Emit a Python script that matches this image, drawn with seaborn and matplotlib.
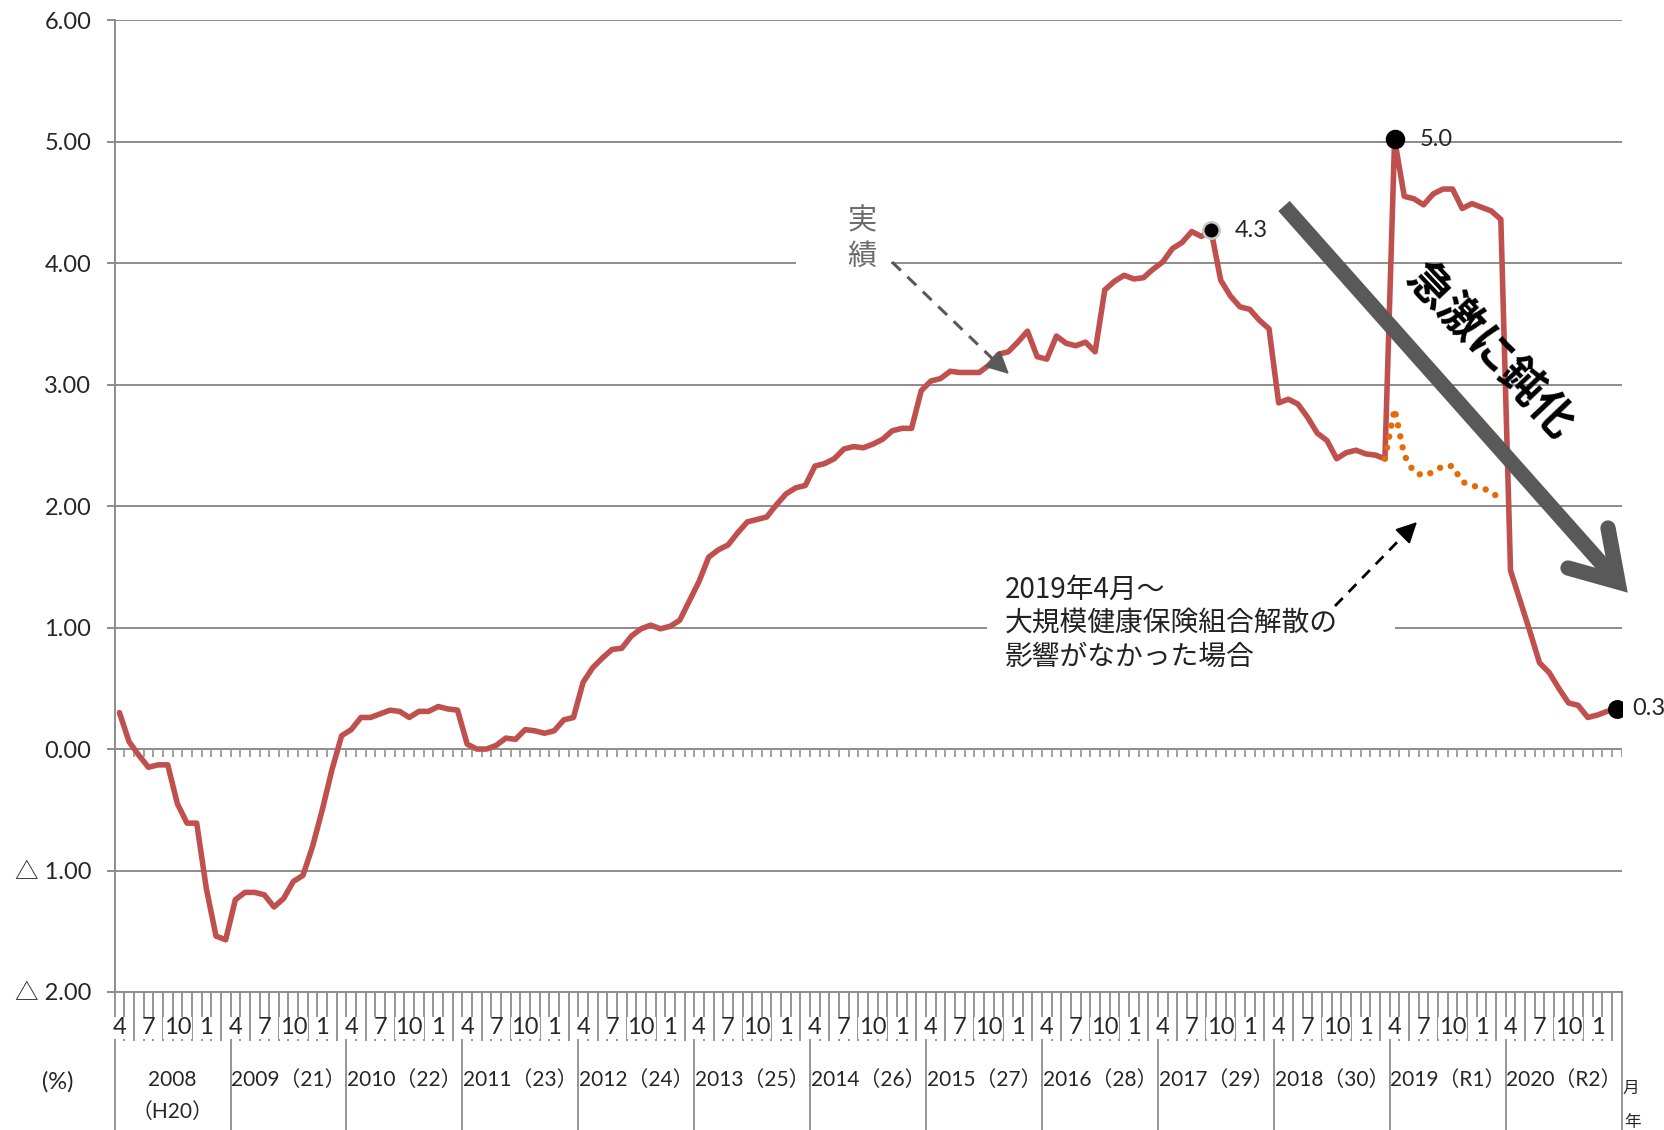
import numpy as np
import pandas as pd
import matplotlib
matplotlib.use("Agg")
import matplotlib.pyplot as plt
import matplotlib.transforms as mtransforms
from matplotlib.patches import Rectangle
import seaborn as sns

# Category axis: fiscal years (April to March) and the month labels shown in each
fiscal_year_labels = [
    ["2008", "（H20）"], ["2009（21）"], ["2010（22）"], ["2011（23）"], ["2012（24）"],
    ["2013（25）"], ["2014（26）"], ["2015（27）"], ["2016（28）"], ["2017（29）"],
    ["2018（30）"], ["2019（R1）"], ["2020（R2）"],
]
labelled_months = ["4", "7", "10", "1"]
months = pd.period_range("2008-04", "2021-03", freq="M")

# Year-on-year growth (%), actual figures by fiscal year
growth_fy2008 = [0.30, 0.06, -0.05, -0.15, -0.13, -0.13, -0.45, -0.61, -0.61, -1.15, -1.54, -1.57]
growth_fy2009 = [-1.24, -1.18, -1.18, -1.20, -1.30, -1.23, -1.09, -1.04, -0.80, -0.50, -0.17, 0.11]
growth_fy2010 = [0.16, 0.26, 0.26, 0.29, 0.32, 0.31, 0.26, 0.31, 0.31, 0.35, 0.33, 0.32]
growth_fy2011 = [0.04, 0.00, 0.00, 0.03, 0.09, 0.08, 0.16, 0.15, 0.13, 0.15, 0.24, 0.26]
growth_fy2012 = [0.55, 0.67, 0.75, 0.82, 0.83, 0.93, 0.99, 1.02, 0.99, 1.01, 1.06, 1.22]
growth_fy2013 = [1.38, 1.58, 1.64, 1.68, 1.78, 1.87, 1.89, 1.91, 2.01, 2.10, 2.15, 2.17]
growth_fy2014 = [2.33, 2.35, 2.39, 2.47, 2.49, 2.48, 2.51, 2.55, 2.62, 2.64, 2.64, 2.95]
growth_fy2015 = [3.03, 3.05, 3.11, 3.10, 3.10, 3.10, 3.16, 3.25, 3.27, 3.35, 3.44, 3.23]
growth_fy2016 = [3.21, 3.40, 3.34, 3.32, 3.35, 3.27, 3.78, 3.85, 3.90, 3.87, 3.88, 3.95]
growth_fy2017 = [4.01, 4.12, 4.17, 4.26, 4.22, 4.27, 3.86, 3.73, 3.64, 3.62, 3.53, 3.46]
growth_fy2018 = [2.85, 2.88, 2.84, 2.73, 2.60, 2.54, 2.39, 2.44, 2.46, 2.43, 2.42, 2.39]
growth_fy2019 = [5.02, 4.55, 4.53, 4.48, 4.57, 4.61, 4.61, 4.45, 4.49, 4.46, 4.43, 4.36]
growth_fy2020 = [1.47, 1.22, 0.97, 0.71, 0.63, 0.50, 0.38, 0.36, 0.26, 0.28, 0.31, 0.33]

# Path without the effect of the large health insurance society dissolved in April 2019
counterfactual_months = pd.period_range("2019-03", "2020-03", freq="M")
growth_counterfactual = [2.39, 2.80, 2.42, 2.28, 2.25, 2.28, 2.33, 2.33, 2.20, 2.17, 2.15, 2.12, 2.05]

# Months whose value is written next to a marker
highlight_months = ["2017-09", "2019-04", "2021-03"]
highlight_offsets_pt = [17, 18, 11.5]

RED = "#C0504D"
ORANGE = "#E36C09"
GRID = "#8C8C8C"
DARK = "#595959"

actual = (growth_fy2008 + growth_fy2009 + growth_fy2010 + growth_fy2011 + growth_fy2012
          + growth_fy2013 + growth_fy2014 + growth_fy2015 + growth_fy2016 + growth_fy2017
          + growth_fy2018 + growth_fy2019 + growth_fy2020)
df = pd.DataFrame({"month": months, "pos": np.arange(len(months)), "growth": actual})
pos_of = {m: i for i, m in enumerate(months)}
cf = pd.DataFrame({"pos": [pos_of[m] for m in counterfactual_months],
                   "growth": growth_counterfactual})
hl = df[df["month"].isin(pd.PeriodIndex(highlight_months, freq="M"))].reset_index(drop=True)

W, H = 1664, 1130
sns.set_style("white")
plt.rcParams["font.family"] = ["Lato", "Noto Sans CJK JP"]
plt.rcParams["axes.unicode_minus"] = False

fig = plt.figure(figsize=(W / 100, H / 100), dpi=100)
AX_L, AX_R, AX_T, AX_B = 114.6, 1621.6, 20.2, 992.0
ax = fig.add_axes([AX_L / W, 1 - AX_B / H, (AX_R - AX_L) / W, (AX_B - AX_T) / H])

sns.lineplot(data=df, x="pos", y="growth", ax=ax, color=RED, lw=4.0, errorbar=None,
             solid_joinstyle="round", solid_capstyle="round", zorder=3)
sns.lineplot(data=cf, x="pos", y="growth", ax=ax, color=ORANGE, lw=4.6, errorbar=None,
             linestyle=(0, (0.01, 1.75)), dash_capstyle="round", zorder=4)

sizes = [140, 150, 140]
edges = ["#C8C8C8", "black", "black"]
for (_, row), s, ec, off in zip(hl.iterrows(), sizes, edges, highlight_offsets_pt):
    ax.scatter(row["pos"], row["growth"], s=s, color="black", edgecolor=ec, lw=1.8, zorder=6)
    ax.annotate(f"{row['growth']:.1f}", (row["pos"], row["growth"]), xytext=(off, 0),
                textcoords="offset points", ha="left", va="center", fontsize=17, zorder=6)

n = len(months)
ax.set_xlim(-0.5, n - 0.5)
ax.set_ylim(-2, 6)
ax.set_xlabel("")
ax.set_ylabel("")
yt = np.arange(-2, 7)
ax.set_yticks(yt)
ax.set_yticklabels([f"{v:.2f}" if v >= 0 else f"△ {abs(v):.2f}" for v in yt], fontsize=17)
ax.set_xticks([])
ax.tick_params(axis="y", left=True, length=5.8, width=1.4, color=GRID, pad=11)
ax.grid(axis="y", color=GRID, lw=1.4)
ax.set_axisbelow(True)
for side in ["top", "right"]:
    ax.spines[side].set_visible(False)
for side in ["left", "bottom"]:
    ax.spines[side].set_color(GRID)
    ax.spines[side].set_linewidth(1.4)

# Minor month ticks hanging from the zero line
bounds = np.arange(n + 1) - 0.5
ax.vlines(bounds, -0.066, 0, colors="#9A9A9A", lw=1.3, zorder=2)

# Two-level category labels below the axis
trans = mtransforms.blended_transform_factory(ax.transData, ax.transAxes)
ax_h = AX_B - AX_T
def ay(py):
    return -(py - AX_B) / ax_h

year_bounds = bounds[::12]
month_bounds = [b for b in bounds if b not in set(year_bounds)]
ax.vlines(month_bounds, ay(1041), 0, transform=trans, clip_on=False, colors=GRID, lw=1.3)
ax.vlines(year_bounds, ay(1130), 0, transform=trans, clip_on=False, colors=GRID, lw=1.3)
for k in range(len(fiscal_year_labels)):
    for j, m in enumerate(labelled_months):
        ax.text(12 * k + 3 * j, ay(1028), m, transform=trans, ha="center", va="center",
                fontsize=17, bbox=dict(fc="white", ec="none", pad=0.5), clip_on=False)
    lines = fiscal_year_labels[k]
    ax.text(12 * k + 5.5, ay(1080), lines[0], transform=trans, ha="center", va="center",
            fontsize=15, clip_on=False)
    if len(lines) > 1:
        ax.text(12 * k + 5.5, ay(1112), lines[1], transform=trans, ha="center", va="center",
                fontsize=15, clip_on=False)

fig.text(58 / W, 1 - 1082 / H, "(%)", ha="center", va="center", fontsize=17)
fig.text(1631 / W, 1 - 1088 / H, "月", ha="center", va="center", fontsize=12)
fig.text(1633 / W, 1 - 1122 / H, "年", ha="center", va="center", fontsize=12)

# Annotation layer in pixel coordinates
ov = fig.add_axes([0, 0, 1, 1], zorder=5)
ov.set_xlim(0, W)
ov.set_ylim(H, 0)
ov.axis("off")
ov.patch.set_visible(False)

# 実績 callout
ov.add_patch(Rectangle((796, 252), 95, 22, fc="white", ec="none"))
ov.text(862, 221, "実", ha="center", va="center", fontsize=21, color="#6B6B6B")
ov.text(862, 257, "績", ha="center", va="center", fontsize=21, color="#6B6B6B")
ov.plot([892, 997], [262, 363], color=DARK, lw=2.2, linestyle=(0, (4, 3)))
ov.annotate("", xy=(1009, 374), xytext=(995, 361),
            arrowprops=dict(arrowstyle="-|>,head_length=0.7,head_width=0.35", color=DARK,
                            lw=1.5, shrinkA=0, shrinkB=0, mutation_scale=20))

# Counterfactual callout
ov.add_patch(Rectangle((987, 617), 408, 22, fc="white", ec="none"))
for ypx, line in zip([590, 624, 657], ["2019年4月～", "大規模健康保険組合解散の", "影響がなかった場合"]):
    ov.text(1005, ypx, line, ha="left", va="center", fontsize=20, color="#222222",
            family=["Noto Sans CJK JP"])
ov.plot([1335, 1407], [606, 532], color="black", lw=2.0, linestyle=(0, (4, 3)))
ov.annotate("", xy=(1417, 522), xytext=(1405, 534),
            arrowprops=dict(arrowstyle="-|>,head_length=0.7,head_width=0.35", color="black",
                            lw=1.5, shrinkA=0, shrinkB=0, mutation_scale=18))

# Large trend arrow
ov.plot([1284, 1618], [206, 582], color=DARK, lw=11, solid_capstyle="butt")
ov.plot([1608, 1618, 1568], [528, 582, 568], color=DARK, lw=11,
        solid_capstyle="round", solid_joinstyle="miter")
ov.text(1490, 352, "急激に鈍化", ha="center", va="center", rotation=-46.5,
        rotation_mode="anchor", fontsize=32, fontweight="bold", color="black",
        family=["Noto Sans CJK JP"])

fig.savefig("out.png", dpi=100, facecolor="white")
